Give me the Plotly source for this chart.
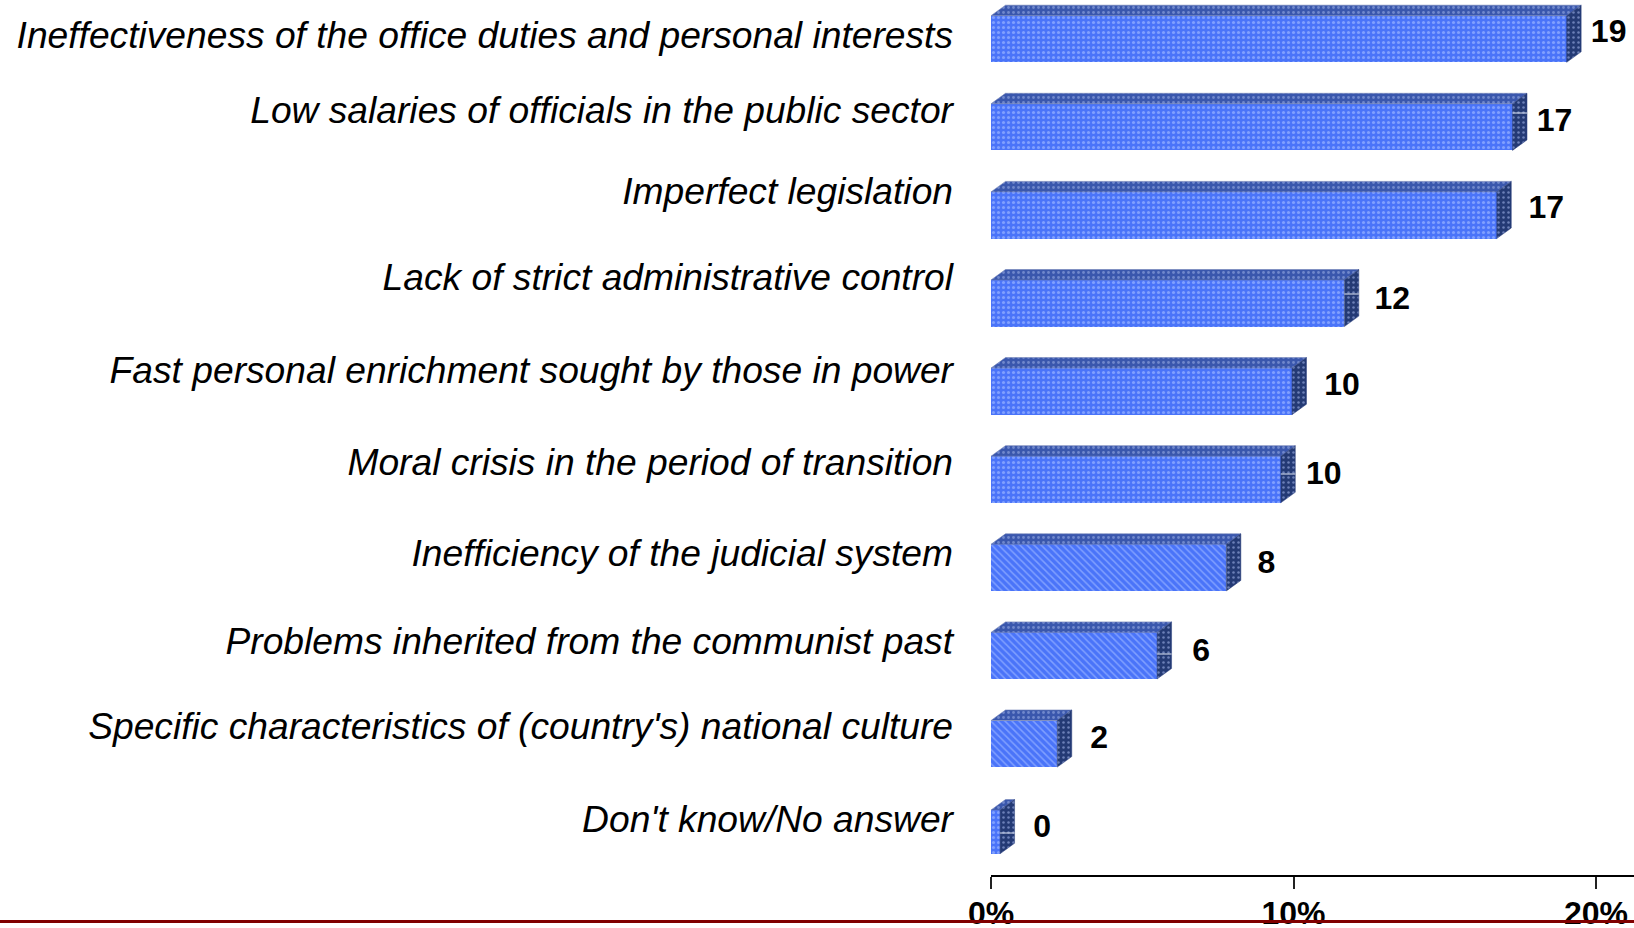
import plotly.graph_objects as go

categories = [
    "Ineffectiveness of the office duties and personal interests",
    "Low salaries of officials in the public sector",
    "Imperfect legislation",
    "Lack of strict administrative control",
    "Fast personal enrichment sought by those in power",
    "Moral crisis in the period of transition",
    "Inefficiency of the judicial system",
    "Problems inherited from the communist past",
    "Specific characteristics of (country's) national culture",
    "Don't know/No answer",
]
values = [19.03, 17.24, 16.72, 11.68, 9.95, 9.58, 7.78, 5.49, 2.19, 0.3]
value_labels = ["19", "17", "17", "12", "10", "10", "8", "6", "2", "0"]
tick_values = [0, 10, 20]
tick_labels = ["0%", "10%", "20%"]

# layout constants (pixels on the 1634x928 page)
W, H = 1634, 928
AX_X0, AX_Y = 991, 874.5
PX_PER_UNIT = 30.25
ROW_PX, FIRST_ROW_PX = 88.1, 39.0
BAR_PX = [46.6] * 9 + [43.7]
DEPTH_X, DEPTH_Y = 14.5 / PX_PER_UNIT, 10.5 / ROW_PX
bar_shapes = [".", ".", ".", ".", ".", ".", "\\", "\\", "\\", "."]
cat_label_px = [35, 110, 191, 277, 370, 462, 553, 641, 726, 819]
label_dx_px = [42, 42, 49.5, 48, 50, 43, 40, 44, 42, 42]
label_y_px = [34, 122.5, 210, 301, 387, 476, 565, 653, 739.5, 829]
leader_rows = [1, 3, 5, 7, 9]
leader_y_px = [113, 294, 474, 654, 833]

rows = list(range(len(values)))
widths = [b / ROW_PX for b in BAR_PX]
fig = go.Figure()

fig.add_trace(go.Bar(
    x=values, y=rows, orientation="h", width=widths,
    marker=dict(color="#4a74f9", line_width=0,
                pattern=dict(shape=bar_shapes, size=5, solidity=0.3,
                             fgcolor="#80a0ff", bgcolor="#4a74f9", fillmode="replace")),
    hoverinfo="skip", showlegend=False,
))

top_x, top_y, side_x, side_y = [], [], [], []
for r, v, w in zip(rows, values, widths):
    t, b = r - w / 2, r + w / 2
    top_x += [0, v, v + DEPTH_X, DEPTH_X, 0, None]
    top_y += [t, t, t - DEPTH_Y, t - DEPTH_Y, t, None]
    side_x += [v, v + DEPTH_X, v + DEPTH_X, v, v, None]
    side_y += [t, t - DEPTH_Y, b - DEPTH_Y, b, t, None]

fig.add_trace(go.Scatter(
    x=top_x, y=top_y, mode="lines", fill="toself", line=dict(width=0.6, color="#6f80b5"),
    fillcolor="#3a57ad",
    fillpattern=dict(shape=".", size=5, solidity=0.25, fgcolor="#7088cc", bgcolor="#3a57ad", fillmode="replace"),
    hoverinfo="skip", showlegend=False,
))
fig.add_trace(go.Scatter(
    x=side_x, y=side_y, mode="lines", fill="toself", line=dict(width=0.5, color="#2a3f7c"),
    fillcolor="#243a75",
    fillpattern=dict(shape=".", size=5, solidity=0.2, fgcolor="#6c80b8", bgcolor="#243a75", fillmode="replace"),
    hoverinfo="skip", showlegend=False,
))

lead_x, lead_y = [], []
for r, p in zip(leader_rows, leader_y_px):
    v = values[r]
    yy = (p - FIRST_ROW_PX) / ROW_PX
    lead_x += [v, v + DEPTH_X, None]
    lead_y += [yy, yy, None]
fig.add_trace(go.Scatter(x=lead_x, y=lead_y, mode="lines", line=dict(width=1, color="#dfe6f5"),
                         hoverinfo="skip", showlegend=False))

fig.add_trace(go.Scatter(
    x=[v + d / PX_PER_UNIT for v, d in zip(values, label_dx_px)],
    y=[(p - FIRST_ROW_PX) / ROW_PX for p in label_y_px],
    mode="text", text=value_labels, textposition="middle center",
    textfont=dict(family="Liberation Sans", size=32, color="black", weight="bold"),
    cliponaxis=False, hoverinfo="skip", showlegend=False,
))

fig.update_layout(
    width=W, height=H, autosize=False,
    margin=dict(l=0, r=0, t=0, b=0, autoexpand=False),
    paper_bgcolor="white", plot_bgcolor="white", showlegend=False, bargap=0,
    xaxis=dict(
        domain=[AX_X0 / W, 1], range=[0, (W - AX_X0) / PX_PER_UNIT], anchor="y", automargin=False,
        tickmode="array", tickvals=tick_values, ticktext=tick_labels,
        ticks="outside", ticklen=12, tickwidth=1.5, tickcolor="#222", ticklabelstandoff=-3,
        showline=True, linecolor="black", linewidth=2, showgrid=False, zeroline=False,
        tickfont=dict(family="Liberation Sans", size=32, color="black", weight="bold"),
    ),
    yaxis=dict(
        domain=[(H - AX_Y) / H, 1],
        range=[(AX_Y - FIRST_ROW_PX) / ROW_PX, -FIRST_ROW_PX / ROW_PX],
        anchor="x", showgrid=False, zeroline=False, showline=False, ticks="", automargin=False,
        tickmode="array",
        tickvals=[(p - FIRST_ROW_PX) / ROW_PX for p in cat_label_px],
        ticktext=categories, ticklabelstandoff=37,
        tickfont=dict(family="Liberation Sans", size=37.2, color="black", style="italic"),
    ),
    shapes=[dict(type="line", xref="paper", yref="paper", x0=0, x1=1,
                 y0=1 - 921.5 / H, y1=1 - 921.5 / H,
                 line=dict(color="#800000", width=3), layer="above")],
)
fig.write_html("out.html", config={"displayModeBar": False},
               post_script="document.body.style.margin='0';document.body.style.overflow='hidden';")
